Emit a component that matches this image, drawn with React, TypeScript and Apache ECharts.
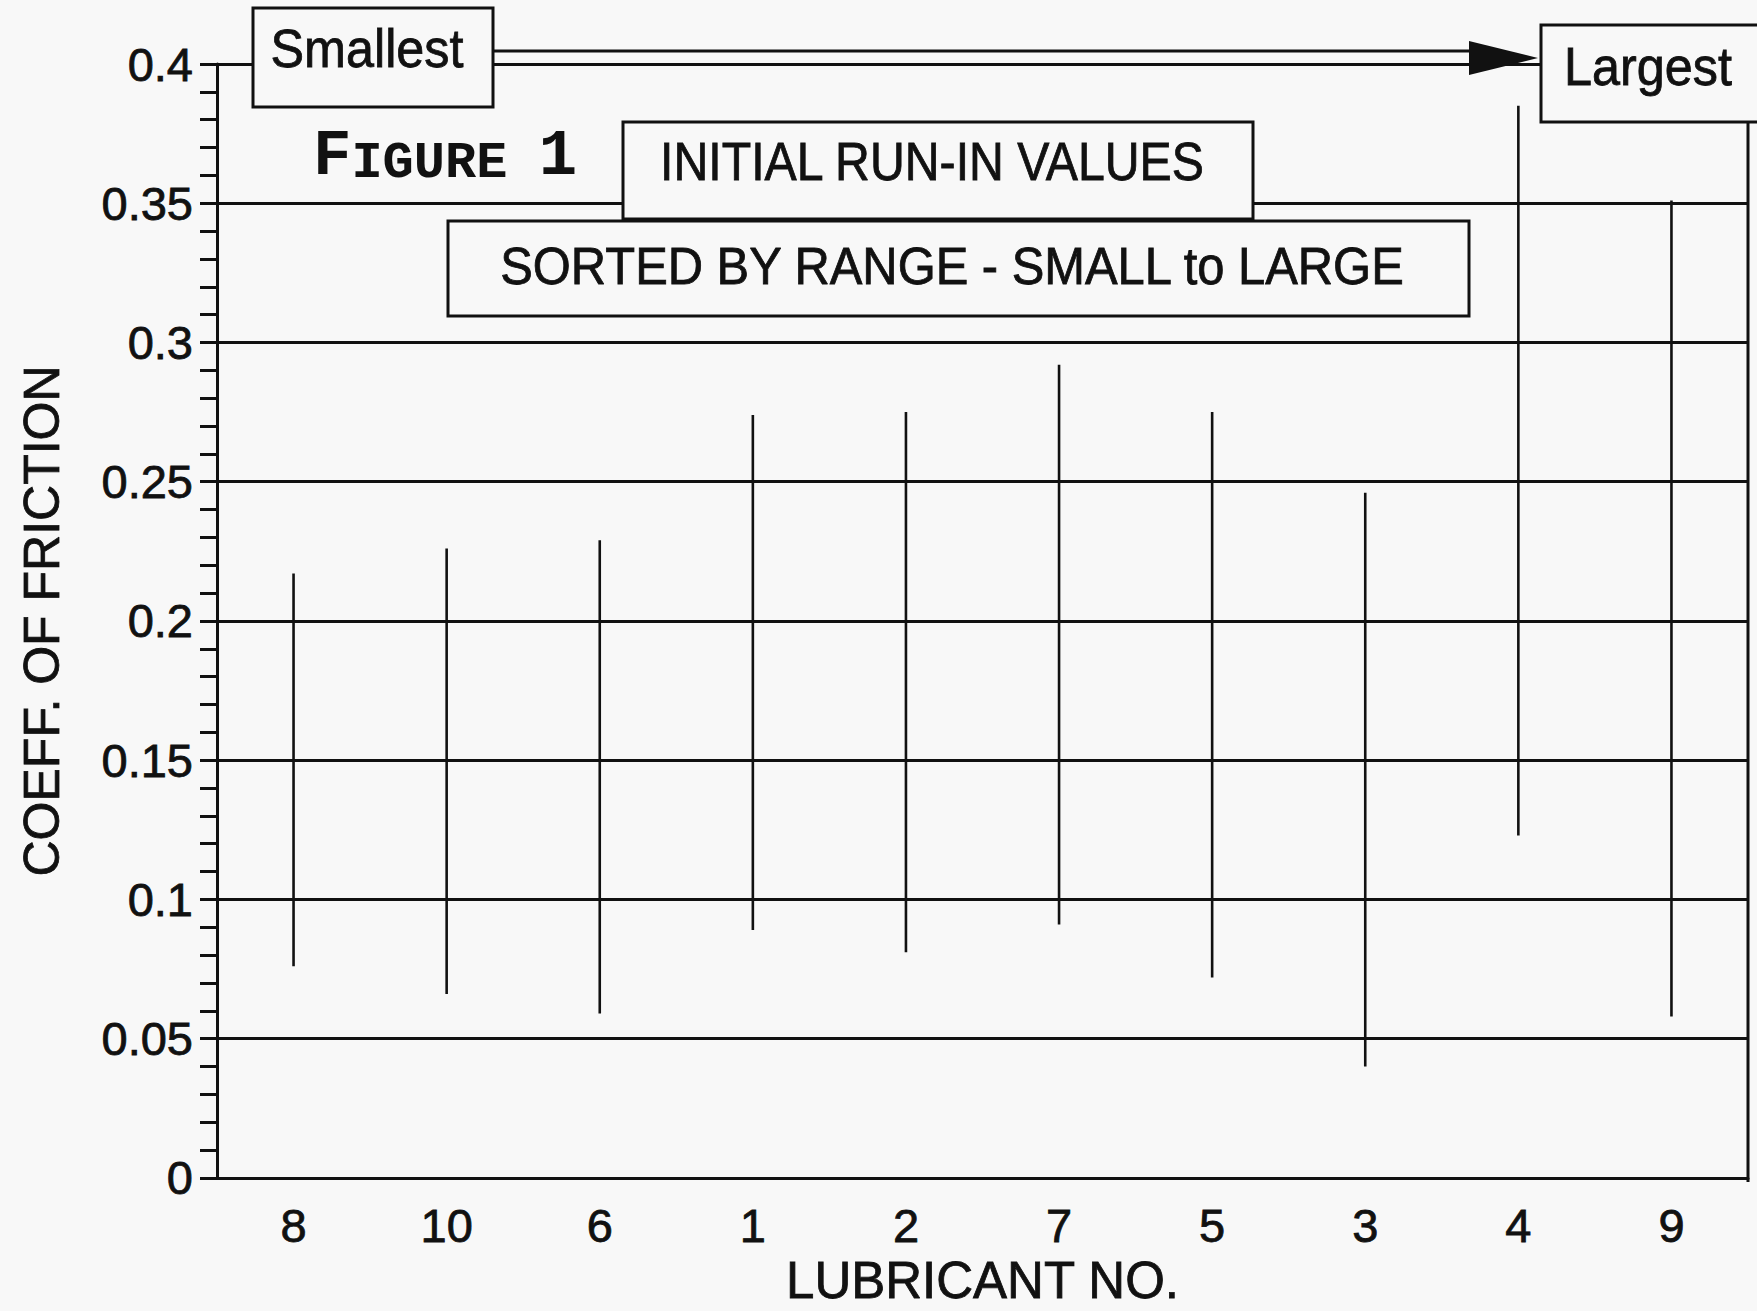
import React, { useEffect, useRef } from "react";
import * as echarts from "echarts";

const lubricants = ["8", "10", "6", "1", "2", "7", "5", "3", "4", "9"];
const lows = [0.076, 0.066, 0.059, 0.089, 0.081, 0.091, 0.072, 0.040, 0.123, 0.058];
const highs = [0.217, 0.226, 0.229, 0.274, 0.275, 0.292, 0.275, 0.246, 0.385, 0.351];
const yTicks = [0, 0.05, 0.1, 0.15, 0.2, 0.25, 0.3, 0.35, 0.4];

const BG = "#f8f8f8";
const INK = "#111";
const SANS = "'Liberation Sans', Arial, Helvetica, sans-serif";
const MONO = "'Liberation Mono', 'DejaVu Sans Mono', monospace";

export default function App() {
  const ref = useRef<HTMLDivElement>(null);
  useEffect(() => {
    document.body.style.margin = "0";
    const chart = echarts.init(ref.current!, null, { renderer: "svg" });
    const box = (x: number, y: number, w: number, h: number) => ({
      type: "rect",
      z: 100,
      shape: { x, y, width: w, height: h },
      style: { fill: BG, stroke: INK, lineWidth: 3 },
    });
    const label = (text: string, x: number, y: number, size: number, sx: number) => ({
      type: "text",
      z: 101,
      x,
      y,
      scaleX: sx,
      style: {
        text,
        x: 0,
        y: 0,
        align: "center",
        verticalAlign: "middle",
        fontSize: size,
        fontFamily: SANS,
        fill: INK,
        stroke: INK,
        lineWidth: 0.8,
      },
    });
    chart.setOption({
      animation: false,
      backgroundColor: BG,
      grid: { left: 217, right: 9, top: 64, bottom: 129 },
      xAxis: {
        type: "category",
        data: lubricants,
        boundaryGap: true,
        name: "LUBRICANT NO.",
        nameLocation: "middle",
        nameGap: 76,
        nameTextStyle: {
          fontSize: 51,
          fontFamily: SANS,
          color: INK,
          textBorderColor: INK,
          textBorderWidth: 0.8,
        },
        axisLine: { lineStyle: { color: INK, width: 3 } },
        axisTick: { alignWithLabel: true, length: 19, lineStyle: { color: INK, width: 3 } },
        axisLabel: {
          margin: 24,
          fontSize: 47,
          fontFamily: SANS,
          color: INK,
          textBorderColor: INK,
          textBorderWidth: 0.8,
        },
        splitLine: { show: false },
      },
      yAxis: {
        type: "value",
        min: 0,
        max: 0.4,
        interval: 0.05,
        name: "COEFF. OF FRICTION",
        nameLocation: "middle",
        nameGap: 150,
        nameTextStyle: {
          fontSize: 50,
          fontFamily: SANS,
          color: INK,
          textBorderColor: INK,
          textBorderWidth: 0.8,
        },
        axisLine: { show: true, lineStyle: { color: INK, width: 3 } },
        axisTick: { show: true, length: 17, lineStyle: { color: INK, width: 3 } },
        minorTick: { show: true, splitNumber: 5, length: 17, lineStyle: { color: INK, width: 3 } },
        axisLabel: {
          margin: 24,
          fontSize: 47,
          fontFamily: SANS,
          color: INK,
          textBorderColor: INK,
          textBorderWidth: 0.8,
          formatter: (v: number) => {
            const t = yTicks.find((k) => Math.abs(k - v) < 1e-9);
            return t === undefined ? "" : String(t);
          },
        },
        splitLine: { show: true, lineStyle: { color: INK, width: 3 } },
      },
      series: [
        {
          type: "custom",
          data: lubricants.map((_, i) => [i, lows[i], highs[i]]),
          encode: { x: 0, y: [1, 2] },
          renderItem: (_params: any, api: any) => {
            const x = api.value(0);
            const lo = api.coord([x, api.value(1)]);
            const hi = api.coord([x, api.value(2)]);
            return {
              type: "line",
              shape: { x1: lo[0], y1: lo[1], x2: hi[0], y2: hi[1] },
              style: { stroke: INK, lineWidth: 2.6 },
            };
          },
        },
      ],
      graphic: [
        {
          type: "line",
          z: 99,
          shape: { x1: 1748, y1: 122, x2: 1748, y2: 1182 },
          style: { stroke: INK, lineWidth: 3 },
        },
        {
          type: "line",
          z: 99,
          shape: { x1: 493, y1: 51, x2: 1472, y2: 51 },
          style: { stroke: INK, lineWidth: 3 },
        },
        {
          type: "polygon",
          z: 99,
          shape: { points: [[1469, 41], [1538, 58], [1469, 75]] },
          style: { fill: INK },
        },
        box(253, 8, 240, 99),
        label("Smallest", 367, 49, 53, 0.95),
        box(1541, 25, 240, 97),
        label("Largest", 1648, 67, 53, 0.95),
        box(623, 122, 630, 97),
        label("INITIAL RUN-IN VALUES", 932, 162, 53, 0.91),
        box(448, 221, 1021, 95),
        label("SORTED BY RANGE - SMALL to LARGE", 952, 266, 52, 0.94),
        {
          type: "text",
          z: 101,
          style: {
            text: "{a|F}{b|IGURE }{a|1}",
            x: 313,
            y: 157,
            align: "left",
            verticalAlign: "middle",
            fill: INK,
            rich: {
              a: {
                fontSize: 64,
                lineHeight: 64,
                fontWeight: "bold",
                fontFamily: MONO,
                verticalAlign: "bottom",
              },
              b: {
                fontSize: 52,
                lineHeight: 52,
                fontWeight: "bold",
                fontFamily: MONO,
                verticalAlign: "bottom",
              },
            },
          },
        },
      ],
    });
    return () => chart.dispose();
  }, []);
  return (
    <div
      ref={ref}
      style={{ position: "absolute", left: 0, top: 0, width: 1757, height: 1311, background: BG }}
    />
  );
}
